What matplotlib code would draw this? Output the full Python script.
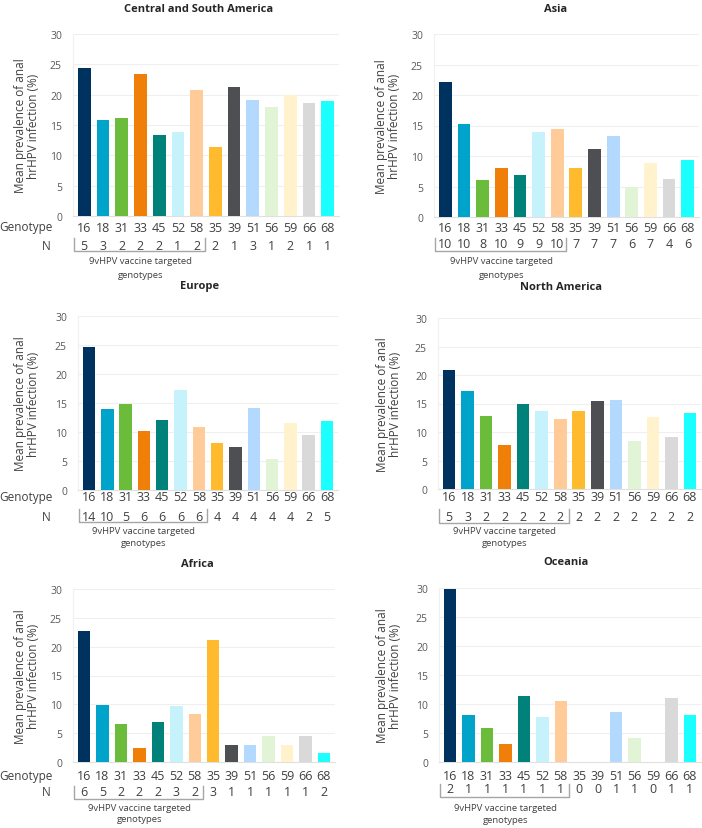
import matplotlib
matplotlib.use("Agg")
import matplotlib.pyplot as plt
from matplotlib.transforms import blended_transform_factory

plt.rcParams['font.family'] = ['Open Sans', 'DejaVu Sans']

genotypes = ["16", "18", "31", "33", "45", "52", "58", "35", "39", "51", "56", "59", "66", "68"]
colors = ["#00325F", "#00A3C9", "#6ABC3A", "#F07F0A", "#00827A", "#C6F3FB", "#FFCC99",
          "#FFBA2E", "#4D4F53", "#B3D9FF", "#E2F4D6", "#FFF2CC", "#D9D9D9", "#1CFFFF"]

csa_vals = [24.4, 15.8, 16.1, 23.4, 13.3, 13.9, 20.7, 11.4, 21.3, 19.1, 17.9, 20.0, 18.6, 18.9]
csa_n = [5, 3, 2, 2, 2, 1, 2, 2, 1, 3, 1, 2, 1, 1]
asia_vals = [22.1, 15.2, 6.1, 8.0, 6.9, 13.9, 14.4, 8.0, 11.2, 13.2, 5.0, 8.9, 6.2, 9.4]
asia_n = [10, 10, 8, 10, 9, 9, 10, 7, 7, 7, 6, 7, 4, 6]
europe_vals = [24.7, 13.9, 14.9, 10.1, 12.1, 17.2, 10.8, 8.1, 7.5, 14.2, 5.4, 11.5, 9.5, 11.9]
europe_n = [14, 10, 5, 6, 6, 6, 6, 4, 4, 4, 4, 4, 2, 5]
na_vals = [20.9, 17.2, 12.8, 7.7, 15.0, 13.7, 12.2, 13.7, 15.4, 15.7, 8.4, 12.7, 9.2, 13.4]
na_n = [5, 3, 2, 2, 2, 2, 2, 2, 2, 2, 2, 2, 2, 2]
africa_vals = [22.8, 9.8, 6.6, 2.4, 6.9, 9.7, 8.4, 21.1, 3.0, 3.0, 4.5, 2.9, 4.5, 1.5]
africa_n = [6, 5, 2, 2, 2, 3, 2, 3, 1, 1, 1, 1, 1, 2]
oceania_vals = [29.8, 8.1, 5.8, 3.1, 11.4, 7.7, 10.6, 0, 0, 8.6, 4.2, 0, 11.0, 8.1]
oceania_n = [2, 1, 1, 1, 1, 1, 1, 0, 0, 1, 1, 0, 1, 1]

titles = ["Central and South America", "Asia", "Europe", "North America", "Africa", "Oceania"]
yticks = [0, 5, 10, 15, 20, 25, 30]

W, H = 702, 829
fig = plt.figure(figsize=(W / 100, H / 100), dpi=100)

panels = [
    dict(vals=csa_vals, n=csa_n, box=(73, 339, 35, 217), title=(199, 9), ylx=27,
         gy=228, ny=247, bt=239, bb=252, l1=262, l2=275, left=True),
    dict(vals=asia_vals, n=asia_n, box=(434, 699, 35, 218), title=(556, 9), ylx=388,
         gy=229, ny=245, bt=239, bb=252, l1=262, l2=275, left=False),
    dict(vals=europe_vals, n=europe_n, box=(78, 338, 317, 491), title=(200, 287), ylx=27,
         gy=498, ny=518, bt=510, bb=523, l1=532, l2=544, left=True),
    dict(vals=na_vals, n=na_n, box=(438, 701, 319, 490), title=(561, 288), ylx=389,
         gy=498, ny=518, bt=510, bb=524, l1=532, l2=544, left=False),
    dict(vals=africa_vals, n=africa_n, box=(73, 335, 590, 763), title=(197, 565), ylx=27,
         gy=777, ny=793, bt=787, bb=800, l1=809, l2=820, left=True),
    dict(vals=oceania_vals, n=oceania_n, box=(439, 701, 589, 763), title=(566, 563), ylx=389,
         gy=777, ny=790, bt=785, bb=798, l1=809, l2=821, left=False),
]

def fy(p):
    return 1 - p / H

def fx(p):
    return p / W

text_col = "#404040"
br_col = "#A6A6A6"

for title, P in zip(titles, panels):
    l, r, y30, y0 = P["box"]
    ax = fig.add_axes([fx(l), fy(y0), fx(r - l), (y0 - y30) / H])
    x = list(range(len(genotypes)))
    ax.bar(x, P["vals"], width=0.68, color=colors, zorder=3)
    ax.set_ylim(0, 30)
    ax.set_xlim(-0.6, 13.6)
    ax.set_yticks(yticks)
    ax.set_yticklabels([str(t) for t in yticks], fontsize=7.5, color="#595959")
    ax.tick_params(axis='y', length=0, pad=8)
    ax.set_xticks([])
    ax.grid(axis='y', color="#EFEFEF", linewidth=0.8, zorder=0)
    for s in ["top", "right"]:
        ax.spines[s].set_visible(False)
    ax.spines["left"].set_color("#F0F0F0")
    ax.spines["bottom"].set_color("#E0E0E0")
    ax.spines["bottom"].set_linewidth(0.8)

    fig.text(fx(P["title"][0]), fy(P["title"][1]), title,
             ha='center', va='center', fontsize=8, fontweight='bold', color="#262626")
    fig.text(fx(P["ylx"]), (fy(y30) + fy(y0)) / 2, "Mean prevalence of anal\nhrHPV infection (%)",
             rotation=90, ha='center', va='center', fontsize=8.5, color="#404040",
             linespacing=1.05)

    tr = blended_transform_factory(ax.transData, fig.transFigure)
    for i, g in enumerate(genotypes):
        ax.text(i, fy(P["gy"]), g, transform=tr, ha='center', va='center',
                fontsize=9, color=text_col)
        ax.text(i, fy(P["ny"]), str(P["n"][i]),
                transform=tr, ha='center', va='center', fontsize=9, color=text_col)
    if P["left"]:
        fig.text(fx(53), fy(P["gy"]), "Genotype", ha='right', va='center',
                 fontsize=8.5, color=text_col)
        fig.text(fx(46), fy(P["ny"]), "N", ha='center', va='center',
                 fontsize=8.5, color=text_col)
    ax.plot([-0.55, -0.55, 6.45, 6.45], [fy(P["bt"]), fy(P["bb"]), fy(P["bb"]), fy(P["bt"])],
            transform=tr, color=br_col, linewidth=1.0, clip_on=False)
    ax.text(3, fy(P["l1"]), "9vHPV vaccine targeted", transform=tr, ha='center',
            va='center', fontsize=6.8, color=text_col)
    ax.text(3, fy(P["l2"]), "genotypes", transform=tr, ha='center',
            va='center', fontsize=6.8, color=text_col)

fig.savefig("out.png", dpi=100, facecolor="white")
